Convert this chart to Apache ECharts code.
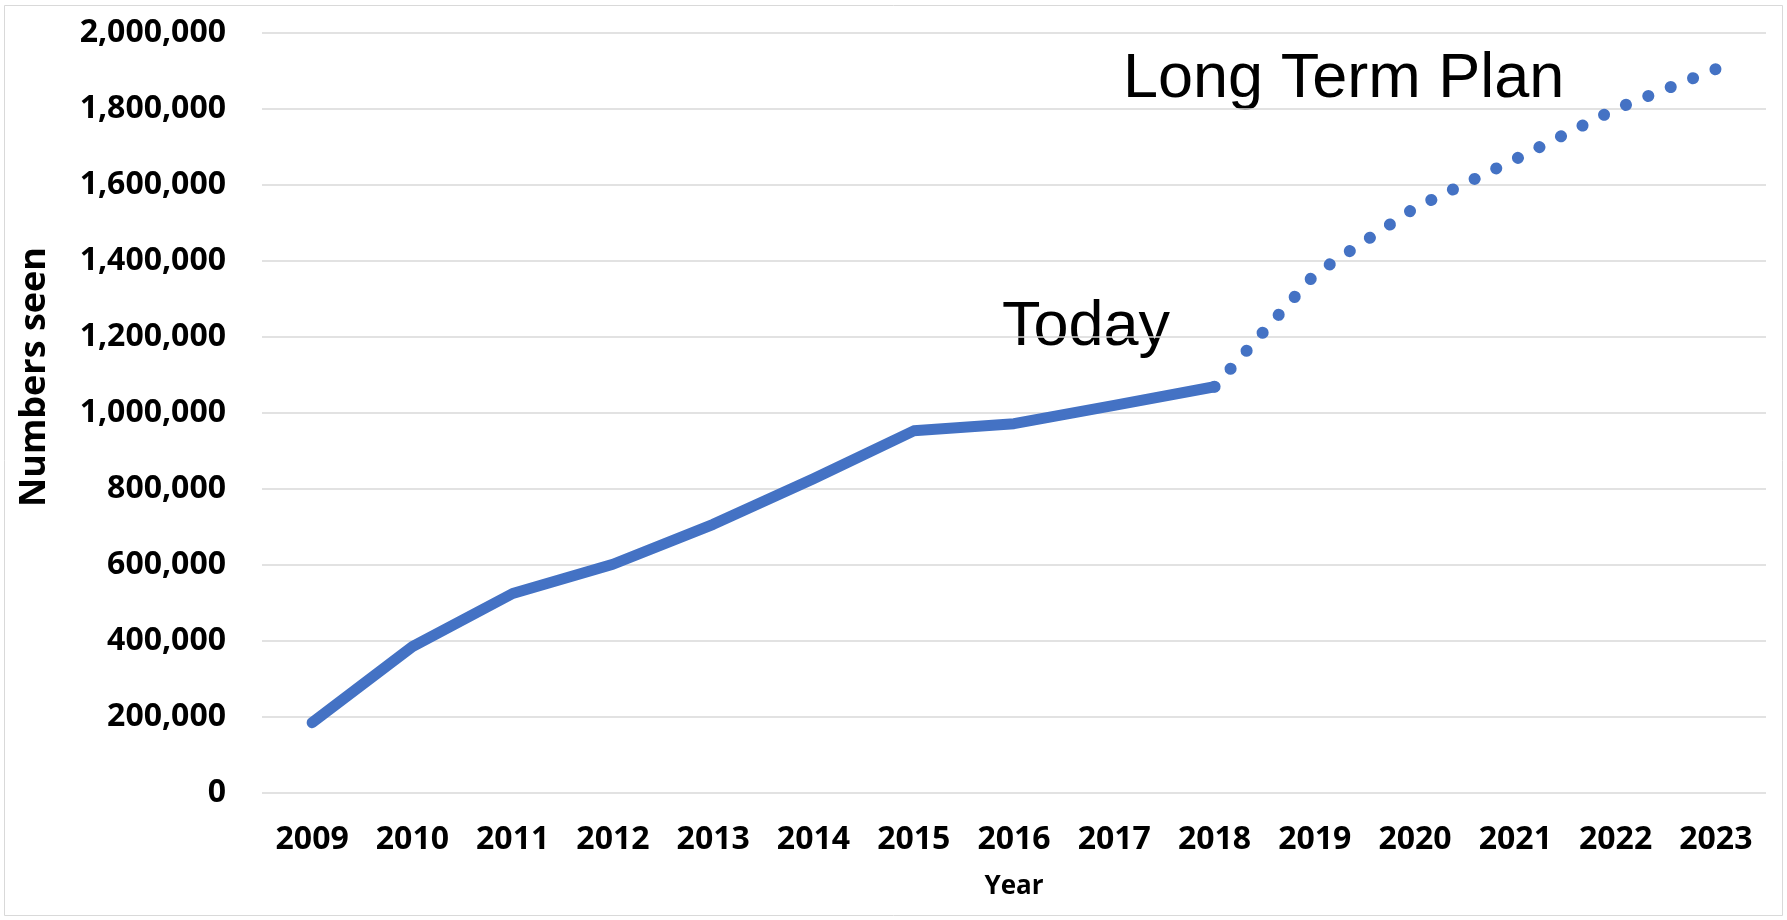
<!DOCTYPE html>
<html>
	<head>
		<meta charset="utf-8">
		<script src="https://cdn.jsdelivr.net/npm/echarts@6/dist/echarts.min.js"></script>
		<title></title>
		<style>
			html, body { margin: 0; padding: 0; background: #fff; }
			#chart { width: 1787px; height: 920px; }
		</style>
	</head>
	<body>
		<div id="chart"></div>
	</body>

	<script>
		// 数据
		const years = ['2009', '2010', '2011', '2012', '2013', '2014', '2015', '2016', '2017', '2018', '2019', '2020', '2021', '2022', '2023'];
		const seenYears = ['2009', '2010', '2011', '2012', '2013', '2014', '2015', '2016', '2017', '2018'];
		const seenValues = [185000, 385000, 525000, 602000, 707000, 827000, 953000, 972000, 1020000, 1069000];
		const planYears = ['2018', '2019', '2020', '2021', '2022', '2023'];
		const planValues = [1069000, 1365000, 1540000, 1668000, 1800000, 1905000];

		const blue = '#4472C4';
		const labelFont = '"Open Sans", "Liberation Sans", Arial, sans-serif';
		const planData = planYears.map(function (y, i) { return [y, planValues[i]]; });

		const chart = echarts.init(document.getElementById('chart'));
		var option = {
			animation: false,
			backgroundColor: '#fff',
			grid: {
				left: 262,
				right: 21,
				top: 33,
				bottom: 127
			},
			xAxis: {
				type: 'category',
				data: years,
				boundaryGap: true,
				name: 'Year',
				nameLocation: 'middle',
				nameGap: 81,
				nameTextStyle: {
					fontFamily: labelFont,
					fontWeight: 'bold',
					fontSize: 26,
					color: '#000'
				},
				axisLine: { show: false },
				axisTick: { show: false },
				axisLabel: {
					margin: 31,
					fontFamily: labelFont,
					fontWeight: 'bold',
					fontSize: 32,
					color: '#000'
				}
			},
			yAxis: {
				type: 'value',
				min: 0,
				max: 2000000,
				interval: 200000,
				axisLine: { show: false },
				axisTick: { show: false },
				splitLine: {
					lineStyle: { color: '#d9d9d9', width: 1.5 }
				},
				axisLabel: {
					margin: 36,
					fontFamily: labelFont,
					fontWeight: 'bold',
					fontSize: 32,
					color: '#000',
					formatter: function (v) {
						return v.toLocaleString('en-US');
					}
				}
			},
			graphic: [
				{
					type: 'rect',
					shape: { x: 4.5, y: 5.5, width: 1778, height: 910 },
					style: { fill: 'none', stroke: '#d9d9d9', lineWidth: 1 },
					silent: true
				},
				{
					type: 'text',
					x: 35,
					y: 377,
					rotation: Math.PI / 2,
					style: {
						text: 'Numbers seen',
						font: 'bold 36px ' + labelFont,
						fill: '#000',
						align: 'center',
						verticalAlign: 'middle'
					}
				},
				{
					type: 'text',
					x: 1002,
					y: 328,
					style: {
						text: 'Today',
						font: '63px "Liberation Sans", Arial, sans-serif',
						fill: '#000',
						align: 'left',
						verticalAlign: 'middle'
					}
				},
				{
					type: 'text',
					x: 1123,
					y: 80,
					style: {
						text: 'Long Term Plan',
						font: '63px "Liberation Sans", Arial, sans-serif',
						fill: '#000',
						align: 'left',
						verticalAlign: 'middle'
					}
				}
			],
			series: [
				{
					name: 'Plan',
					type: 'line',
					symbol: 'none',
					data: planData,
					lineStyle: {
						color: blue,
						width: 12,
						type: [0.1, 24],
						cap: 'round'
					},
					z: 2
				},
				{
					name: 'Numbers seen',
					type: 'line',
					symbol: 'none',
					data: seenYears.map(function (y, i) { return [y, seenValues[i]]; }),
					lineStyle: {
						color: blue,
						width: 11,
						cap: 'round',
						join: 'round'
					},
					z: 3
				}
			]
		};

		chart.setOption(option);

		// 让圆点刚好落在首尾两点上
		let len = 0;
		for (let i = 1; i < planData.length; i++) {
			const a = chart.convertToPixel({ seriesIndex: 0 }, planData[i - 1]);
			const b = chart.convertToPixel({ seriesIndex: 0 }, planData[i]);
			len += Math.hypot(b[0] - a[0], b[1] - a[1]);
		}
		const n = Math.round(len / 24);
		const period = (len - 0.5) / n;
		chart.setOption({
			series: [{ name: 'Plan', lineStyle: { type: [0.1, period - 0.1] } }]
		});
	</script>
</html>
